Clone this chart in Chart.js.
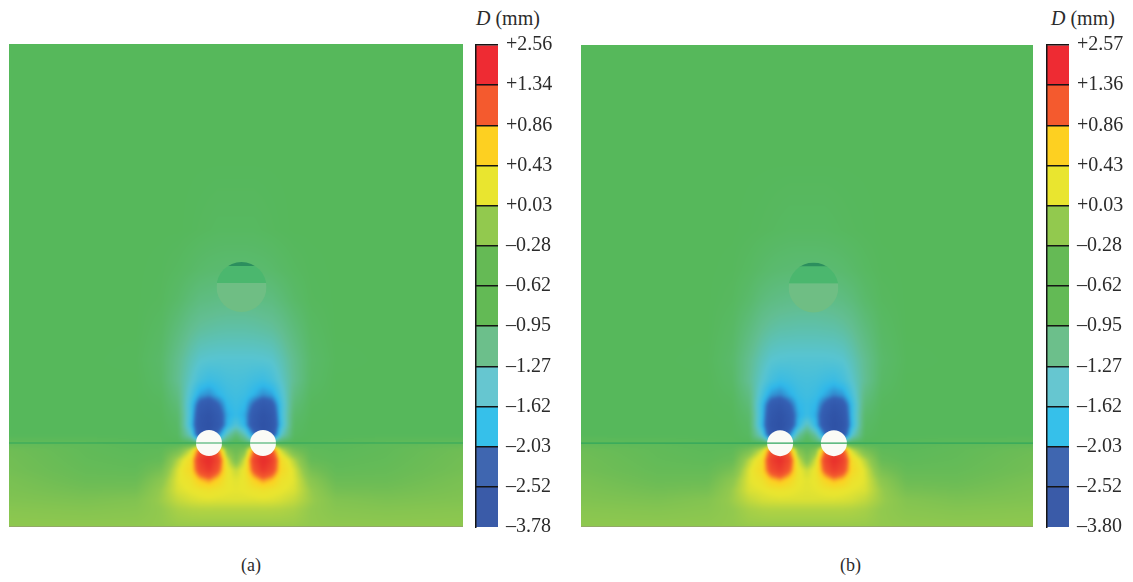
<!DOCTYPE html>
<html>
<head>
<meta charset="utf-8">
<title>D (mm)</title>
<script src="https://cdn.jsdelivr.net/npm/chart.js@4"></script>
<style>
  html, body { margin: 0; background: #fff; }
  body { position: relative; width: 1133px; height: 582px; overflow: hidden; font-family: "Liberation Serif", serif; color: #2b2b2b; }
  canvas { position: absolute; display: block; }
  .label { position: absolute; font-size: 20px; white-space: nowrap; }
  .label i { font-style: italic; }
</style>
</head>
<body>
<canvas id="field-a" width="454" height="483" style="left:9px;top:44px"></canvas>
<canvas id="bar-a" width="110" height="502" style="left:475px;top:35px"></canvas>
<canvas id="field-b" width="452" height="482" style="left:581px;top:45px"></canvas>
<canvas id="bar-b" width="86" height="502" style="left:1046px;top:35px"></canvas>
<div class="label" style="left:476px;top:7px"><i>D</i> (mm)</div>
<div class="label" style="left:1051px;top:7px"><i>D</i> (mm)</div>
<div class="label" style="left:241px;top:555px;font-size:18px">(a)</div>
<div class="label" style="left:840px;top:555px;font-size:18px">(b)</div>
<script>
// Colour bars, top to bottom.
const ticksA = ['+2.56', '+1.34', '+0.86', '+0.43', '+0.03', '–0.28', '–0.62', '–0.95', '–1.27', '–1.62', '–2.03', '–2.52', '–3.78'];
const ticksB = ['+2.57', '+1.36', '+0.86', '+0.43', '+0.03', '–0.28', '–0.62', '–0.95', '–1.27', '–1.62', '–2.03', '–2.52', '–3.80'];
const bandColours = ['#ee2b33', '#f45a2e', '#fdd021', '#e9e52f', '#92c94e', '#65ba55', '#63ba55', '#6cbf8b', '#66c6d0', '#36c0ea', '#3f66b0', '#3a5ba8'];
const fieldColours = ['#e8302c', '#f45a2e', '#fdd021', '#e9e52f', '#92c94e', '#6fbd55', '#56b85b', '#62be92', '#58c4d0', '#2fb8ea', '#3560b4', '#2f52a6'];
const bandMiddles = [1.95, 1.10, 0.64, 0.23, -0.12, -0.45, -0.72, -1.11, -1.44, -1.82, -2.27, -3.15];

// Displacement (mm). Rows follow depthStops, columns follow widthStops.
const widthStops = [-227, -150, -100, -75, -58, -45, -36, -27, -18, -9, 0, 9, 18, 27, 36, 45, 58, 75, 100, 150, 227];
const depthStops = [399, 283, 213, 173, 143, 113, 83, 63, 48, 38, 28, 18, 8, 0, -7, -17, -27, -37, -47, -57, -67, -84];

const fieldA = [
  [-.72,-.72,-.72,-.72,-.72,-.72,-.72,-.72,-.72,-.72,-.72,-.72,-.72,-.72,-.72,-.72,-.72,-.72,-.72,-.72,-.72],
  [-.72,-.72,-.72,-.72,-.72,-.72,-.72,-.72,-.72,-.72,-.72,-.72,-.72,-.72,-.72,-.72,-.72,-.72,-.72,-.72,-.72],
  [-.72,-.72,-.72,-.72,-.72,-.73,-.74,-.75,-.76,-.76,-.76,-.76,-.76,-.75,-.74,-.73,-.72,-.72,-.72,-.72,-.72],
  [-.72,-.72,-.72,-.73,-.76,-.80,-.83,-.85,-.86,-.87,-.87,-.87,-.86,-.85,-.83,-.80,-.76,-.73,-.72,-.72,-.72],
  [-.72,-.72,-.72,-.74,-.82,-.92,-.98,-1.0,-1.02,-1.03,-1.03,-1.03,-1.02,-1.0,-.98,-.92,-.82,-.74,-.72,-.72,-.72],
  [-.72,-.72,-.72,-.78,-.95,-1.1,-1.17,-1.2,-1.22,-1.23,-1.23,-1.23,-1.22,-1.2,-1.17,-1.1,-.95,-.78,-.72,-.72,-.72],
  [-.72,-.72,-.73,-.82,-1.08,-1.3,-1.42,-1.45,-1.46,-1.46,-1.46,-1.46,-1.46,-1.45,-1.42,-1.3,-1.08,-.82,-.73,-.72,-.72],
  [-.72,-.72,-.72,-.80,-1.1,-1.4,-1.6,-1.7,-1.66,-1.6,-1.58,-1.6,-1.66,-1.7,-1.6,-1.4,-1.1,-.80,-.72,-.72,-.72],
  [-.72,-.72,-.72,-.76,-1.0,-1.55,-1.95,-2.05,-1.85,-1.7,-1.65,-1.7,-1.85,-2.05,-1.95,-1.55,-1.0,-.76,-.72,-.72,-.72],
  [-.72,-.72,-.72,-.74,-.92,-1.65,-2.45,-2.7,-2.3,-1.8,-1.7,-1.8,-2.3,-2.7,-2.45,-1.65,-.92,-.74,-.72,-.72,-.72],
  [-.72,-.72,-.72,-.73,-.85,-1.65,-2.75,-3.05,-2.6,-1.9,-1.75,-1.9,-2.6,-3.05,-2.75,-1.65,-.85,-.73,-.72,-.72,-.72],
  [-.72,-.72,-.72,-.72,-.8,-1.7,-2.9,-3.15,-2.7,-1.85,-1.5,-1.85,-2.7,-3.15,-2.9,-1.7,-.8,-.72,-.72,-.72,-.72],
  [-.72,-.72,-.72,-.72,-.76,-1.4,-2.7,-3.05,-2.1,-1.3,-.9,-1.3,-2.1,-3.05,-2.7,-1.4,-.76,-.72,-.72,-.72,-.72],
  [-.6,-.62,-.68,-.7,-.72,-.72,-.9,-1.0,-1.0,-.8,-.65,-.8,-1.0,-1.0,-.9,-.72,-.72,-.7,-.68,-.62,-.6],
  [-.45,-.6,-.65,-.62,-.4,.1,1.2,1.6,1.0,-.3,-.5,-.3,1.0,1.6,1.2,.1,-.4,-.62,-.65,-.6,-.45],
  [-.42,-.58,-.62,-.56,.02,.45,1.7,2.1,1.5,.15,-.35,.15,1.5,2.1,1.7,.45,.02,-.56,-.62,-.58,-.42],
  [-.4,-.55,-.58,-.38,.17,.5,1.4,1.8,1.2,.28,.08,.28,1.2,1.8,1.4,.5,.17,-.38,-.58,-.55,-.4],
  [-.35,-.5,-.5,-.2,.2,.32,.7,.9,.6,.25,.2,.25,.6,.9,.7,.32,.2,-.2,-.5,-.5,-.35],
  [-.32,-.42,-.4,-.1,.17,.24,.28,.32,.28,.24,.22,.24,.28,.32,.28,.24,.17,-.1,-.4,-.42,-.32],
  [-.28,-.33,-.28,-.08,.08,.15,.18,.19,.18,.18,.18,.18,.18,.19,.18,.15,.08,-.08,-.28,-.33,-.28],
  [-.22,-.25,-.22,-.12,-.03,0,.01,.01,.01,.01,.01,.01,.01,.01,.01,0,-.03,-.12,-.22,-.25,-.22],
  [-.15,-.15,-.14,-.12,-.1,-.1,-.1,-.1,-.1,-.1,-.1,-.1,-.1,-.1,-.1,-.1,-.1,-.12,-.14,-.15,-.15]
];

const fieldB = [
  [-.72,-.72,-.72,-.72,-.72,-.72,-.72,-.72,-.72,-.72,-.72,-.72,-.72,-.72,-.72,-.72,-.72,-.72,-.72,-.72,-.72],
  [-.72,-.72,-.72,-.72,-.72,-.72,-.72,-.72,-.72,-.72,-.72,-.72,-.72,-.72,-.72,-.72,-.72,-.72,-.72,-.72,-.72],
  [-.72,-.72,-.72,-.72,-.73,-.74,-.75,-.76,-.77,-.77,-.77,-.77,-.77,-.76,-.75,-.74,-.73,-.72,-.72,-.72,-.72],
  [-.72,-.72,-.72,-.73,-.77,-.82,-.85,-.87,-.88,-.89,-.89,-.89,-.88,-.87,-.85,-.82,-.77,-.73,-.72,-.72,-.72],
  [-.72,-.72,-.72,-.75,-.84,-.95,-1.0,-1.03,-1.05,-1.06,-1.06,-1.06,-1.05,-1.03,-1.0,-.95,-.84,-.75,-.72,-.72,-.72],
  [-.72,-.72,-.72,-.79,-.97,-1.13,-1.2,-1.24,-1.25,-1.26,-1.26,-1.26,-1.25,-1.24,-1.2,-1.13,-.97,-.79,-.72,-.72,-.72],
  [-.72,-.72,-.73,-.83,-1.1,-1.32,-1.44,-1.47,-1.48,-1.48,-1.48,-1.48,-1.48,-1.47,-1.44,-1.32,-1.1,-.83,-.73,-.72,-.72],
  [-.72,-.72,-.72,-.80,-1.12,-1.42,-1.62,-1.72,-1.68,-1.62,-1.6,-1.62,-1.68,-1.72,-1.62,-1.42,-1.12,-.80,-.72,-.72,-.72],
  [-.72,-.72,-.72,-.76,-1.0,-1.6,-2.0,-2.1,-1.9,-1.72,-1.66,-1.72,-1.9,-2.1,-2.0,-1.6,-1.0,-.76,-.72,-.72,-.72],
  [-.72,-.72,-.72,-.74,-.92,-1.75,-2.55,-2.8,-2.35,-1.82,-1.72,-1.82,-2.35,-2.8,-2.55,-1.75,-.92,-.74,-.72,-.72,-.72],
  [-.72,-.72,-.72,-.73,-.85,-1.75,-2.8,-3.1,-2.65,-1.9,-1.7,-1.9,-2.65,-3.1,-2.8,-1.75,-.85,-.73,-.72,-.72,-.72],
  [-.72,-.72,-.72,-.72,-.8,-1.8,-2.95,-3.2,-2.7,-1.8,-1.3,-1.8,-2.7,-3.2,-2.95,-1.8,-.8,-.72,-.72,-.72,-.72],
  [-.72,-.72,-.72,-.72,-.76,-1.45,-2.7,-3.05,-2.1,-1.2,-.8,-1.2,-2.1,-3.05,-2.7,-1.45,-.76,-.72,-.72,-.72,-.72],
  [-.62,-.64,-.68,-.7,-.72,-.72,-.9,-1.0,-1.0,-.78,-.68,-.78,-1.0,-1.0,-.9,-.72,-.72,-.7,-.68,-.64,-.62],
  [-.48,-.6,-.65,-.62,-.35,.12,1.2,1.55,.95,-.25,-.5,-.25,.95,1.55,1.2,.12,-.35,-.62,-.65,-.6,-.48],
  [-.44,-.58,-.62,-.54,.04,.45,1.65,2.0,1.45,.15,-.3,.15,1.45,2.0,1.65,.45,.04,-.54,-.62,-.58,-.44],
  [-.42,-.55,-.56,-.36,.18,.5,1.35,1.7,1.15,.28,.1,.28,1.15,1.7,1.35,.5,.18,-.36,-.56,-.55,-.42],
  [-.36,-.5,-.48,-.18,.2,.32,.65,.8,.55,.25,.2,.25,.55,.8,.65,.32,.2,-.18,-.48,-.5,-.36],
  [-.32,-.42,-.38,-.09,.17,.22,.26,.29,.26,.22,.2,.22,.26,.29,.26,.22,.17,-.09,-.38,-.42,-.32],
  [-.28,-.33,-.26,-.08,.07,.14,.16,.17,.17,.17,.17,.17,.17,.17,.16,.14,.07,-.08,-.26,-.33,-.28],
  [-.22,-.25,-.21,-.12,-.04,-.01,0,0,0,0,0,0,0,0,0,-.01,-.04,-.12,-.21,-.25,-.22],
  [-.15,-.15,-.14,-.12,-.1,-.1,-.1,-.1,-.1,-.1,-.1,-.1,-.1,-.1,-.1,-.1,-.1,-.12,-.14,-.15,-.15]
];

// Tunnels and the upper cavity, same units as widthStops / depthStops.
const tunnelX = [-27, 27];
const tunnelY = [0, 0];
const cavityXA = 5.5;
const cavityXB = 6.5;
const cavityY = 156;
const cavityRadius = 25;
const cavityEdges = [181, 177, 160, 130];

function hexToRgb(hex) {
  return [1, 3, 5].map((i) => parseInt(hex.slice(i, i + 2), 16));
}

const fieldRgb = fieldColours.map(hexToRgb);

function colourFor(value) {
  // bandMiddles goes from high to low
  if (value >= bandMiddles[0]) return fieldRgb[0];
  for (let i = 1; i < bandMiddles.length; i++) {
    if (value >= bandMiddles[i]) {
      const t = (value - bandMiddles[i]) / (bandMiddles[i - 1] - bandMiddles[i]);
      return fieldRgb[i].map((c, k) => c + (fieldRgb[i - 1][k] - c) * t);
    }
  }
  return fieldRgb[fieldRgb.length - 1];
}

function locate(stops, v) {
  // returns [index, fraction] for increasing or decreasing stops
  const sign = stops[1] > stops[0] ? 1 : -1;
  let i = 0;
  while (i < stops.length - 2 && sign * v > sign * stops[i + 1]) i++;
  const t = (v - stops[i]) / (stops[i + 1] - stops[i]);
  return [i, Math.min(1, Math.max(0, t))];
}

// Paints the value grid under the datasets, pixel positions come from the scales.
const fieldPlugin = {
  id: 'fieldPlugin',
  beforeDatasetsDraw(chart, args, opts) {
    const area = chart.chartArea;
    const xs = chart.scales.x;
    const ys = chart.scales.y;
    const w = Math.round(area.right - area.left);
    const h = Math.round(area.bottom - area.top);
    const off = document.createElement('canvas');
    off.width = w;
    off.height = h;
    const offCtx = off.getContext('2d');
    const img = offCtx.createImageData(w, h);
    for (let py = 0; py < h; py++) {
      const [r, tr] = locate(depthStops, ys.getValueForPixel(area.top + py + 0.5));
      for (let px = 0; px < w; px++) {
        const [c, tc] = locate(widthStops, xs.getValueForPixel(area.left + px + 0.5));
        const top = opts.grid[r][c] * (1 - tc) + opts.grid[r][c + 1] * tc;
        const bot = opts.grid[r + 1][c] * (1 - tc) + opts.grid[r + 1][c + 1] * tc;
        const rgb = colourFor(top * (1 - tr) + bot * tr);
        const at = (py * w + px) * 4;
        img.data[at] = rgb[0];
        img.data[at + 1] = rgb[1];
        img.data[at + 2] = rgb[2];
        img.data[at + 3] = 255;
      }
    }
    offCtx.putImageData(img, 0, 0);

    const ctx = chart.ctx;
    ctx.save();
    ctx.beginPath();
    ctx.rect(area.left, area.top, w, h);
    ctx.clip();
    ctx.drawImage(off, area.left, area.top);
    ctx.filter = 'blur(1.5px)';
    ctx.drawImage(off, area.left, area.top);
    ctx.filter = 'none';

    // cavity: flat bands inside a circle
    const cx = xs.getPixelForValue(opts.cavityX);
    const cy = ys.getPixelForValue(cavityY);
    const radius = xs.getPixelForValue(opts.cavityX + cavityRadius) - cx;
    const tones = ['#2c8f5e', '#4bb76e', '#6fbe84'];
    ctx.beginPath();
    ctx.arc(cx, cy, radius, 0, Math.PI * 2);
    ctx.clip();
    ctx.filter = 'blur(0.5px)';
    tones.forEach((tone, i) => {
      const y0 = ys.getPixelForValue(cavityEdges[i]);
      const y1 = ys.getPixelForValue(cavityEdges[i + 1]);
      ctx.fillStyle = tone;
      ctx.fillRect(cx - radius, y0, radius * 2, y1 - y0);
    });
    ctx.filter = 'none';
    ctx.restore();
  }
};

function makeField(canvasId, grid, cavityX) {
  const left = widthStops[0];
  const right = widthStops[widthStops.length - 1];
  const bottom = depthStops[depthStops.length - 1];
  new Chart(document.getElementById(canvasId), {
    type: 'scatter',
    plugins: [fieldPlugin],
    data: {
      datasets: [
        {
          // ground line
          data: [{ x: left, y: 0 }, { x: right, y: 0 }],
          showLine: true,
          borderColor: '#2fa65c',
          borderWidth: 1.2,
          pointRadius: 0
        },
        {
          // lower edge of the model
          data: [{ x: left, y: bottom }, { x: right, y: bottom }],
          showLine: true,
          borderColor: '#93a966',
          borderWidth: 2,
          pointRadius: 0
        },
        {
          data: tunnelX.map((x, i) => ({ x: x, y: tunnelY[i] })),
          showLine: false,
          pointRadius: 13,
          pointBackgroundColor: '#fbfbf6',
          pointBorderColor: '#fbfbf6',
          pointBorderWidth: 0
        }
      ]
    },
    options: {
      responsive: false,
      animation: false,
      layout: { padding: 0, autoPadding: false },
      plugins: {
        legend: { display: false },
        tooltip: { enabled: false },
        fieldPlugin: { grid: grid, cavityX: cavityX }
      },
      scales: {
        x: { type: 'linear', display: false, min: left, max: right },
        y: { type: 'linear', display: false, min: bottom, max: depthStops[0] }
      }
    }
  });
}

function makeColourBar(canvasId, tickLabels) {
  const canvas = document.getElementById(canvasId);
  new Chart(canvas, {
    type: 'bar',
    data: {
      labels: ['D'],
      datasets: bandColours.map((colour, i) => ({
        data: [[i, i + 1]],
        backgroundColor: colour,
        barPercentage: 1,
        categoryPercentage: 1,
        grouped: false
      }))
    },
    options: {
      responsive: false,
      animation: false,
      layout: { padding: { top: 10, bottom: 10, left: 1 }, autoPadding: false },
      plugins: { legend: { display: false }, tooltip: { enabled: false } },
      scales: {
        x: { display: false },
        y: {
          position: 'right',
          reverse: true,
          min: 0,
          max: bandColours.length,
          afterFit(axis) {
            axis.width = canvas.width - 23;
            axis.paddingTop = 0;
            axis.paddingBottom = 0;
          },
          border: { display: false },
          grid: {
            z: 1,
            drawTicks: false,
            lineWidth: 1.5,
            color: (c) => (c.tick.value === bandColours.length ? 'rgba(0,0,0,0)' : '#151515')
          },
          ticks: {
            stepSize: 1,
            padding: 8,
            autoSkip: false,
            color: '#2b2b2b',
            font: { family: '"Liberation Serif", serif', size: 20 },
            callback: (v) => tickLabels[v]
          }
        },
        edge: {
          position: 'left',
          min: 0,
          max: bandColours.length,
          afterFit(axis) {
            axis.width = 0;
            axis.paddingTop = 0;
            axis.paddingBottom = 0;
          },
          grid: { display: false },
          ticks: { display: false },
          border: { display: true, color: '#151515', width: 1.5, z: 2 }
        }
      }
    }
  });
}

makeField('field-a', fieldA, cavityXA);
makeField('field-b', fieldB, cavityXB);
makeColourBar('bar-a', ticksA);
makeColourBar('bar-b', ticksB);
</script>
</body>
</html>
